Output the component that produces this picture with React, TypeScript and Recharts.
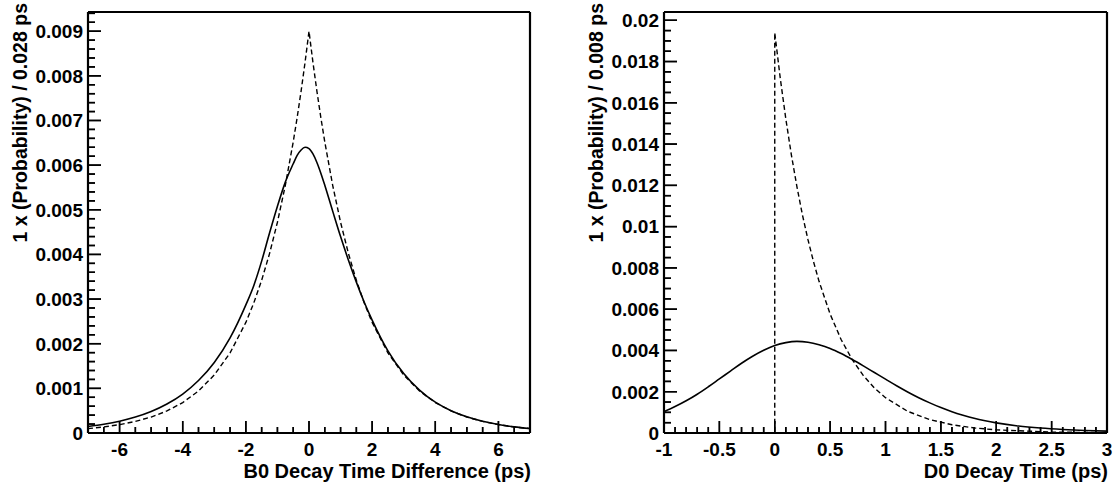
import React from 'react';
import { LineChart, Line, XAxis, YAxis, ReferenceLine, CartesianGrid } from 'recharts';

// ---------- Left panel: B0 decay time difference ----------
const B0_T = [-7, -6.5, -6, -5.5, -5, -4.5, -4, -3.5, -3, -2.5, -2, -1.75, -1.5, -1.25, -1, -0.75, -0.5, -0.375, -0.25, -0.125, 0, 0.125, 0.25, 0.375, 0.5, 0.75, 1, 1.25, 1.5, 1.75, 2, 2.5, 3, 3.5, 4, 4.5, 5, 5.5, 6, 6.5, 7];
const B0_SOLID = [0.000146, 0.000197, 0.000265, 0.000357, 0.000481, 0.000648, 0.000872, 0.001175, 0.00158, 0.00213, 0.00287, 0.0033, 0.00385, 0.00448, 0.00508, 0.00562, 0.00603, 0.00622, 0.00634, 0.0064, 0.00637, 0.00625, 0.00606, 0.00582, 0.00555, 0.00497, 0.0044, 0.00387, 0.00338, 0.00293, 0.00253, 0.00184, 0.00133, 0.00096, 0.00069, 0.0005, 0.000362, 0.000262, 0.00019, 0.000137, 0.0001];
const B0_DASHED = [0.0000984, 0.000136, 0.000188, 0.000259, 0.000357, 0.000494, 0.000682, 0.000941, 0.001299, 0.001794, 0.002477, 0.002911, 0.00342, 0.004018, 0.004721, 0.005548, 0.006519, 0.007066, 0.007659, 0.008302, 0.009, 0.008302, 0.007659, 0.007066, 0.006519, 0.005548, 0.004721, 0.004018, 0.00342, 0.002911, 0.002477, 0.001794, 0.001299, 0.000941, 0.000682, 0.000494, 0.000357, 0.000259, 0.000188, 0.000136, 0.0000984];
const B0_X_MAJOR = [-6, -4, -2, 0, 2, 4, 6];
const B0_X_LABELS = ['-6', '-4', '-2', '0', '2', '4', '6'];
const B0_Y_MAJOR = [0, 0.001, 0.002, 0.003, 0.004, 0.005, 0.006, 0.007, 0.008, 0.009];
const B0_Y_LABELS = ['0', '0.001', '0.002', '0.003', '0.004', '0.005', '0.006', '0.007', '0.008', '0.009'];
const B0_X_TITLE = 'B0 Decay Time Difference (ps)';
const B0_Y_TITLE = '1 x (Probability) / 0.028 ps';

// ---------- Right panel: D0 decay time ----------
const D0_T = [-1, -0.9, -0.8, -0.7, -0.6, -0.5, -0.4, -0.3, -0.2, -0.1, 0, 0.1, 0.2, 0.3, 0.4, 0.5, 0.6, 0.7, 0.8, 0.9, 1, 1.1, 1.2, 1.3, 1.4, 1.5, 1.6, 1.7, 1.8, 1.9, 2, 2.2, 2.4, 2.6, 2.8, 3];
const D0_SOLID = [0.00103, 0.00128, 0.00156, 0.00188, 0.00224, 0.00262, 0.003, 0.00338, 0.00372, 0.00401, 0.00424, 0.00438, 0.00444, 0.0044, 0.00428, 0.0041, 0.00385, 0.00356, 0.00325, 0.00293, 0.00261, 0.00229, 0.00199, 0.00171, 0.00146, 0.00123, 0.00103, 0.00086, 0.00071, 0.00059, 0.00049, 0.00034, 0.00024, 0.00017, 0.00012, 0.00009];
const D0_DASH_T = [-1, 0, 0, 0.05, 0.1, 0.15, 0.2, 0.25, 0.3, 0.35, 0.4, 0.5, 0.6, 0.7, 0.8, 0.9, 1, 1.2, 1.4, 1.6, 1.8, 2, 2.5, 3];
const D0_DASHED = [0, 0, 0.0194, 0.01718, 0.01522, 0.01348, 0.01194, 0.01057, 0.00937, 0.0083, 0.00735, 0.00576, 0.00452, 0.00355, 0.00278, 0.00218, 0.00171, 0.00105, 0.00065, 0.0004, 0.000246, 0.000151, 0.000045, 0.0000134];
const D0_X_MAJOR = [-1, -0.5, 0, 0.5, 1, 1.5, 2, 2.5, 3];
const D0_X_LABELS = ['-1', '-0.5', '0', '0.5', '1', '1.5', '2', '2.5', '3'];
const D0_Y_MAJOR = [0, 0.002, 0.004, 0.006, 0.008, 0.01, 0.012, 0.014, 0.016, 0.018, 0.02];
const D0_Y_LABELS = ['0', '0.002', '0.004', '0.006', '0.008', '0.01', '0.012', '0.014', '0.016', '0.018', '0.02'];
const D0_X_TITLE = 'D0 Decay Time (ps)';
const D0_Y_TITLE = '1 x (Probability) / 0.008 ps';

const FONT = '"Liberation Sans", Arial, Helvetica, sans-serif';
const FS = 19;

// plot-area sizes in pixels (only used to turn tick lengths into dash patterns / axis units)
const PLOT_W = 442;
const PLOT_H = 421;
const X_MAJ_LEN = 12;
const X_MIN_LEN = 6;
const Y_MAJ_LEN = 13;
const Y_MIN_LEN = 7;

function stepTicks(min: number, max: number, step: number): number[] {
  const out: number[] = [];
  const n = Math.round((max - min) / step);
  for (let i = 0; i <= n; i++) out.push(parseFloat((min + i * step).toFixed(6)));
  return out;
}

function findIdx(arr: number[], v: number) {
  return arr.findIndex((m) => Math.abs(m - Number(v)) < 1e-9);
}

const makeXTick = (majors: number[], labels: string[]) => (props: any) => {
  const x = Number(props.x);
  const y = Number(props.y);
  const idx = findIdx(majors, props.payload.value);
  const len = idx >= 0 ? X_MAJ_LEN : X_MIN_LEN;
  return (
    <g>
      <path d={`M${x},${y}L${x},${y - len}`} stroke="#000" strokeWidth={1.5} fill="none" />
      {idx >= 0 && (
        <text x={x} y={y + 23} textAnchor="middle" fontFamily={FONT} fontWeight="bold" fontSize={FS} fill="#000">
          {labels[idx]}
        </text>
      )}
    </g>
  );
};

const makeYTick = (majors: number[], labels: string[]) => (props: any) => {
  const x = Number(props.x);
  const y = Number(props.y);
  const idx = findIdx(majors, props.payload.value);
  const len = idx >= 0 ? Y_MAJ_LEN : Y_MIN_LEN;
  return (
    <g>
      <path d={`M${x},${y}L${x + len},${y}`} stroke="#000" strokeWidth={1.5} fill="none" />
      {idx >= 0 && (
        <text x={x - 5} y={y} dy="0.36em" textAnchor="end" fontFamily={FONT} fontWeight="bold" fontSize={FS} fill="#000">
          {labels[idx]}
        </text>
      )}
    </g>
  );
};

const xTitle = (text: string) => (props: any) => {
  const vb = props.viewBox;
  return (
    <text x={vb.x + vb.width + 1} y={vb.y + 45} textAnchor="end" fontFamily={FONT} fontWeight="bold" fontSize={20} fill="#000">
      {text}
    </text>
  );
};

const yTitle = (text: string) => (props: any) => {
  const vb = props.viewBox;
  const bx = vb.x + vb.width - 61;
  const by = vb.y - 9;
  return (
    <text x={bx} y={by} transform={`rotate(-90 ${bx} ${by})`} textAnchor="end" fontFamily={FONT} fontWeight="bold" fontSize={19.5} fill="#000">
      {text}
    </text>
  );
};

// grid-line generators that place lines at tick values through the axis scales
const vGen = (vals: number[]) => (args: any) => {
  try {
    const s = args && args.xAxis && args.xAxis.scale;
    if (typeof s !== 'function') return [];
    return vals.map((v) => s(v)).filter((p: any) => Number.isFinite(p));
  } catch (e) {
    return [];
  }
};
const hGen = (vals: number[]) => (args: any) => {
  try {
    const s = args && args.yAxis && args.yAxis.scale;
    if (typeof s !== 'function') return [];
    return vals.map((v) => s(v)).filter((p: any) => Number.isFinite(p));
  } catch (e) {
    return [];
  }
};

function split(all: number[], majors: number[], lo: number, hi: number) {
  const inner = all.filter((v) => v > lo + 1e-9 && v < hi - 1e-9);
  return {
    maj: inner.filter((v) => findIdx(majors, v) >= 0),
    min: inner.filter((v) => findIdx(majors, v) < 0),
  };
}

const tickLineProps = { type: 'linear' as const, stroke: '#000', strokeWidth: 1.5, dot: false, activeDot: false, legendType: 'none' as const, isAnimationActive: false };

const B0_YMAX = 0.00943;
const D0_YMAX = 0.0204;

const B0_XT = stepTicks(-7, 7, 0.5);
const B0_YT = stepTicks(0, 0.0094, 0.0002);
const D0_XT = stepTicks(-1, 3, 0.1);
const D0_YT = stepTicks(0, 0.02, 0.0005);

const B0X = split(B0_XT, B0_X_MAJOR, -7, 7);
const B0Y = split(B0_YT, B0_Y_MAJOR, 0, B0_YMAX);
const D0X = split(D0_XT, D0_X_MAJOR, -1, 3);
const D0Y = split(D0_YT, D0_Y_MAJOR, 0, D0_YMAX);

const b0SolidData = B0_T.map((t, i) => ({ t, v: B0_SOLID[i] }));
const b0DashedData = B0_T.map((t, i) => ({ t, v: B0_DASHED[i] }));
const d0Solid = D0_T.map((t, i) => ({ t, v: D0_SOLID[i] }));
const d0Dashed = D0_DASH_T.map((t, i) => ({ t, v: D0_DASHED[i] }));

export default function App() {
  const b0dy = (len: number) => (len / PLOT_H) * B0_YMAX;
  const b0dx = (len: number) => (len / PLOT_W) * 14;
  const d0dy = (len: number) => (len / PLOT_H) * D0_YMAX;
  const d0dx = (len: number) => (len / PLOT_W) * 4;
  return (
    <div style={{ position: 'absolute', left: 0, top: 0, width: 1118, height: 482, background: '#fff' }}>
      <div style={{ position: 'absolute', left: 0, top: 0 }}>
        <LineChart width={560} height={482} data={b0SolidData} margin={{ top: 12, right: 30, bottom: 19, left: 28 }}>
          <CartesianGrid horizontal={false} stroke="#000" strokeWidth={1.5} strokeDasharray={`0 ${PLOT_H - X_MAJ_LEN} ${X_MAJ_LEN} ${PLOT_H * 2}`} verticalCoordinatesGenerator={vGen(B0X.maj)} />
          <CartesianGrid horizontal={false} stroke="#000" strokeWidth={1.5} strokeDasharray={`0 ${PLOT_H - X_MIN_LEN} ${X_MIN_LEN} ${PLOT_H * 2}`} verticalCoordinatesGenerator={vGen(B0X.min)} />
          <CartesianGrid vertical={false} stroke="#000" strokeWidth={1.5} strokeDasharray={`${Y_MAJ_LEN} ${PLOT_W * 2}`} horizontalCoordinatesGenerator={hGen(B0Y.maj)} />
          <CartesianGrid vertical={false} stroke="#000" strokeWidth={1.5} strokeDasharray={`${Y_MIN_LEN} ${PLOT_W * 2}`} horizontalCoordinatesGenerator={hGen(B0Y.min)} />
          <XAxis
            dataKey="t"
            type="number"
            domain={[-7, 7]}
            allowDataOverflow
            ticks={B0_XT}
            interval={0}
            tickSize={0}
            tickMargin={0}
            height={30}
            axisLine={{ stroke: '#000', strokeWidth: 2.2 }}
            tickLine={false}
            tick={makeXTick(B0_X_MAJOR, B0_X_LABELS)}
            label={{ content: xTitle(B0_X_TITLE) } as any}
          />
          <YAxis
            type="number"
            domain={[0, B0_YMAX]}
            allowDataOverflow
            ticks={B0_YT}
            interval={0}
            tickSize={0}
            tickMargin={0}
            width={60}
            axisLine={{ stroke: '#000', strokeWidth: 2.2 }}
            tickLine={false}
            tick={makeYTick(B0_Y_MAJOR, B0_Y_LABELS)}
            label={{ content: yTitle(B0_Y_TITLE) } as any}
          />
          <ReferenceLine y={B0_YMAX} stroke="#000" strokeWidth={2.2} ifOverflow="visible" />
          <ReferenceLine x={7} stroke="#000" strokeWidth={2.2} ifOverflow="visible" />
          {B0X.maj.map((v) => <Line key={`bxM${v}`} data={[{ t: v, v: 0 }, { t: v, v: b0dy(X_MAJ_LEN) }]} dataKey="v" {...tickLineProps} />)}
          {B0X.min.map((v) => <Line key={`bxm${v}`} data={[{ t: v, v: 0 }, { t: v, v: b0dy(X_MIN_LEN) }]} dataKey="v" {...tickLineProps} />)}
          {B0Y.maj.map((v) => <Line key={`byM${v}`} data={[{ t: -7, v }, { t: -7 + b0dx(Y_MAJ_LEN), v }]} dataKey="v" {...tickLineProps} />)}
          {B0Y.min.map((v) => <Line key={`bym${v}`} data={[{ t: -7, v }, { t: -7 + b0dx(Y_MIN_LEN), v }]} dataKey="v" {...tickLineProps} />)}
          <Line data={b0DashedData} dataKey="v" type="linear" stroke="#000" strokeWidth={1.4} strokeDasharray="5 3" dot={false} isAnimationActive={false} />
          <Line data={b0SolidData} dataKey="v" type="monotone" stroke="#000" strokeWidth={1.6} dot={false} isAnimationActive={false} />
        </LineChart>
      </div>
      <div style={{ position: 'absolute', left: 560, top: 0 }}>
        <LineChart width={558} height={482} data={d0Solid} margin={{ top: 12, right: 11, bottom: 19, left: 44 }}>
          <CartesianGrid horizontal={false} stroke="#000" strokeWidth={1.5} strokeDasharray={`0 ${PLOT_H - X_MAJ_LEN} ${X_MAJ_LEN} ${PLOT_H * 2}`} verticalCoordinatesGenerator={vGen(D0X.maj)} />
          <CartesianGrid horizontal={false} stroke="#000" strokeWidth={1.5} strokeDasharray={`0 ${PLOT_H - X_MIN_LEN} ${X_MIN_LEN} ${PLOT_H * 2}`} verticalCoordinatesGenerator={vGen(D0X.min)} />
          <CartesianGrid vertical={false} stroke="#000" strokeWidth={1.5} strokeDasharray={`${Y_MAJ_LEN} ${PLOT_W * 2}`} horizontalCoordinatesGenerator={hGen(D0Y.maj)} />
          <CartesianGrid vertical={false} stroke="#000" strokeWidth={1.5} strokeDasharray={`${Y_MIN_LEN} ${PLOT_W * 2}`} horizontalCoordinatesGenerator={hGen(D0Y.min)} />
          <XAxis
            dataKey="t"
            type="number"
            domain={[-1, 3]}
            allowDataOverflow
            ticks={D0_XT}
            interval={0}
            tickSize={0}
            tickMargin={0}
            height={30}
            axisLine={{ stroke: '#000', strokeWidth: 2.2 }}
            tickLine={false}
            tick={makeXTick(D0_X_MAJOR, D0_X_LABELS)}
            label={{ content: xTitle(D0_X_TITLE) } as any}
          />
          <YAxis
            type="number"
            domain={[0, D0_YMAX]}
            allowDataOverflow
            ticks={D0_YT}
            interval={0}
            tickSize={0}
            tickMargin={0}
            width={60}
            axisLine={{ stroke: '#000', strokeWidth: 2.2 }}
            tickLine={false}
            tick={makeYTick(D0_Y_MAJOR, D0_Y_LABELS)}
            label={{ content: yTitle(D0_Y_TITLE) } as any}
          />
          <ReferenceLine y={D0_YMAX} stroke="#000" strokeWidth={2.2} ifOverflow="visible" />
          <ReferenceLine x={3} stroke="#000" strokeWidth={2.2} ifOverflow="visible" />
          {D0X.maj.map((v) => <Line key={`dxM${v}`} data={[{ t: v, v: 0 }, { t: v, v: d0dy(X_MAJ_LEN) }]} dataKey="v" {...tickLineProps} />)}
          {D0X.min.map((v) => <Line key={`dxm${v}`} data={[{ t: v, v: 0 }, { t: v, v: d0dy(X_MIN_LEN) }]} dataKey="v" {...tickLineProps} />)}
          {D0Y.maj.map((v) => <Line key={`dyM${v}`} data={[{ t: -1, v }, { t: -1 + d0dx(Y_MAJ_LEN), v }]} dataKey="v" {...tickLineProps} />)}
          {D0Y.min.map((v) => <Line key={`dym${v}`} data={[{ t: -1, v }, { t: -1 + d0dx(Y_MIN_LEN), v }]} dataKey="v" {...tickLineProps} />)}
          <Line data={d0Dashed} dataKey="v" type="linear" stroke="#000" strokeWidth={1.4} strokeDasharray="5 3" dot={false} isAnimationActive={false} />
          <Line data={d0Solid} dataKey="v" type="monotone" stroke="#000" strokeWidth={1.6} dot={false} isAnimationActive={false} />
        </LineChart>
      </div>
    </div>
  );
}
